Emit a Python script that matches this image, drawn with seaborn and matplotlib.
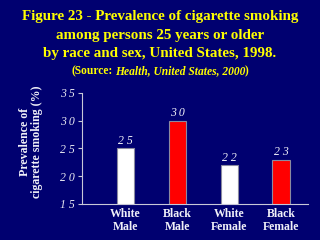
import matplotlib
matplotlib.use("Agg")
import matplotlib.pyplot as plt
import seaborn as sns
import pandas as pd

categories = ["White\nMale", "Black\nMale", "White\nFemale", "Black\nFemale"]
values = [25, 30, 22, 23]
bar_colors = ["#FFFFFF", "#FF0000", "#FFFFFF", "#FF0000"]
yticks = [15, 20, 25, 30, 35]

BG = "#000070"
sns.set_style("white")
plt.rcParams["font.family"] = ["Liberation Serif", "DejaVu Serif"]

fig = plt.figure(figsize=(3.2, 2.4), dpi=100, facecolor=BG)
ax = fig.add_axes([0.256, 0.15, 0.7065, 0.4625])
ax.set_facecolor(BG)

df = pd.DataFrame({"group": categories, "value": values})
sns.barplot(data=df, x="group", y="value", hue="group", palette=bar_colors,
            legend=False, width=0.33, ax=ax, edgecolor="#8a8aa0", linewidth=0.8,
            saturation=1)

ax.set_ylim(15, 35)
ax.set_xlim(-0.84, 3.52)
ax.set_yticks(yticks)
ax.set_yticklabels([" ".join(str(t)) for t in yticks], fontsize=8.5, style="italic",
                   color="#E8E8F0")
ax.tick_params(axis="y", length=3, width=0.8, color="#C8C8D8", pad=2, left=True)
ax.tick_params(axis="x", length=0, pad=3)
for lbl in ax.get_xticklabels():
    lbl.set_fontsize(8.5)
    lbl.set_fontweight("bold")
    lbl.set_color("#F0F0F8")
    lbl.set_linespacing(1.1)
ax.set_xlabel("")
ax.set_ylabel("Prevalence of\ncigarette smoking (%)", fontsize=8.6,
              fontweight="bold", color="#F0F0F8", linespacing=1.05)
ax.yaxis.set_label_coords(-0.172, 0.56)

for s in ["top", "right"]:
    ax.spines[s].set_visible(False)
for s in ["left", "bottom"]:
    ax.spines[s].set_color("#C8C8D8")
    ax.spines[s].set_linewidth(0.8)

for i, v in enumerate(values):
    ax.text(i, v + 0.25, " ".join(str(v)), ha="center", va="bottom",
            fontsize=8.5, style="italic", color="#F0F0F8")

title_lines = ["Figure 23 - Prevalence of cigarette smoking",
               "among persons 25 years or older",
               "by race and sex, United States, 1998."]
ys = [0.933, 0.85, 0.779]
for t, y in zip(title_lines, ys):
    fig.text(0.5, y, t, ha="center", va="center", fontsize=10.8,
             fontweight="bold", color="#FFFF00")

# source line with mixed styles
parts = [("(Source:", "normal", 2.0), ("Health, United States, 2000", "italic", -0.3),
         (")", "normal", 0)]
fig.canvas.draw()
r = fig.canvas.get_renderer()
texts = []
for s, st, g in parts:
    texts.append(fig.text(0, 0.704, s, ha="left", va="center", fontsize=8.3,
                          fontweight="bold", style=st, color="#FFFF00"))
widths = [t.get_window_extent(r).width for t in texts]
gaps = [p[2] for p in parts]
total = sum(widths) + sum(gaps)
x = (320 - total) / 2
for t, w, g in zip(texts, widths, gaps):
    t.set_x(x / 320)
    x += w + g

fig.savefig("out.png", dpi=100, facecolor=BG)
